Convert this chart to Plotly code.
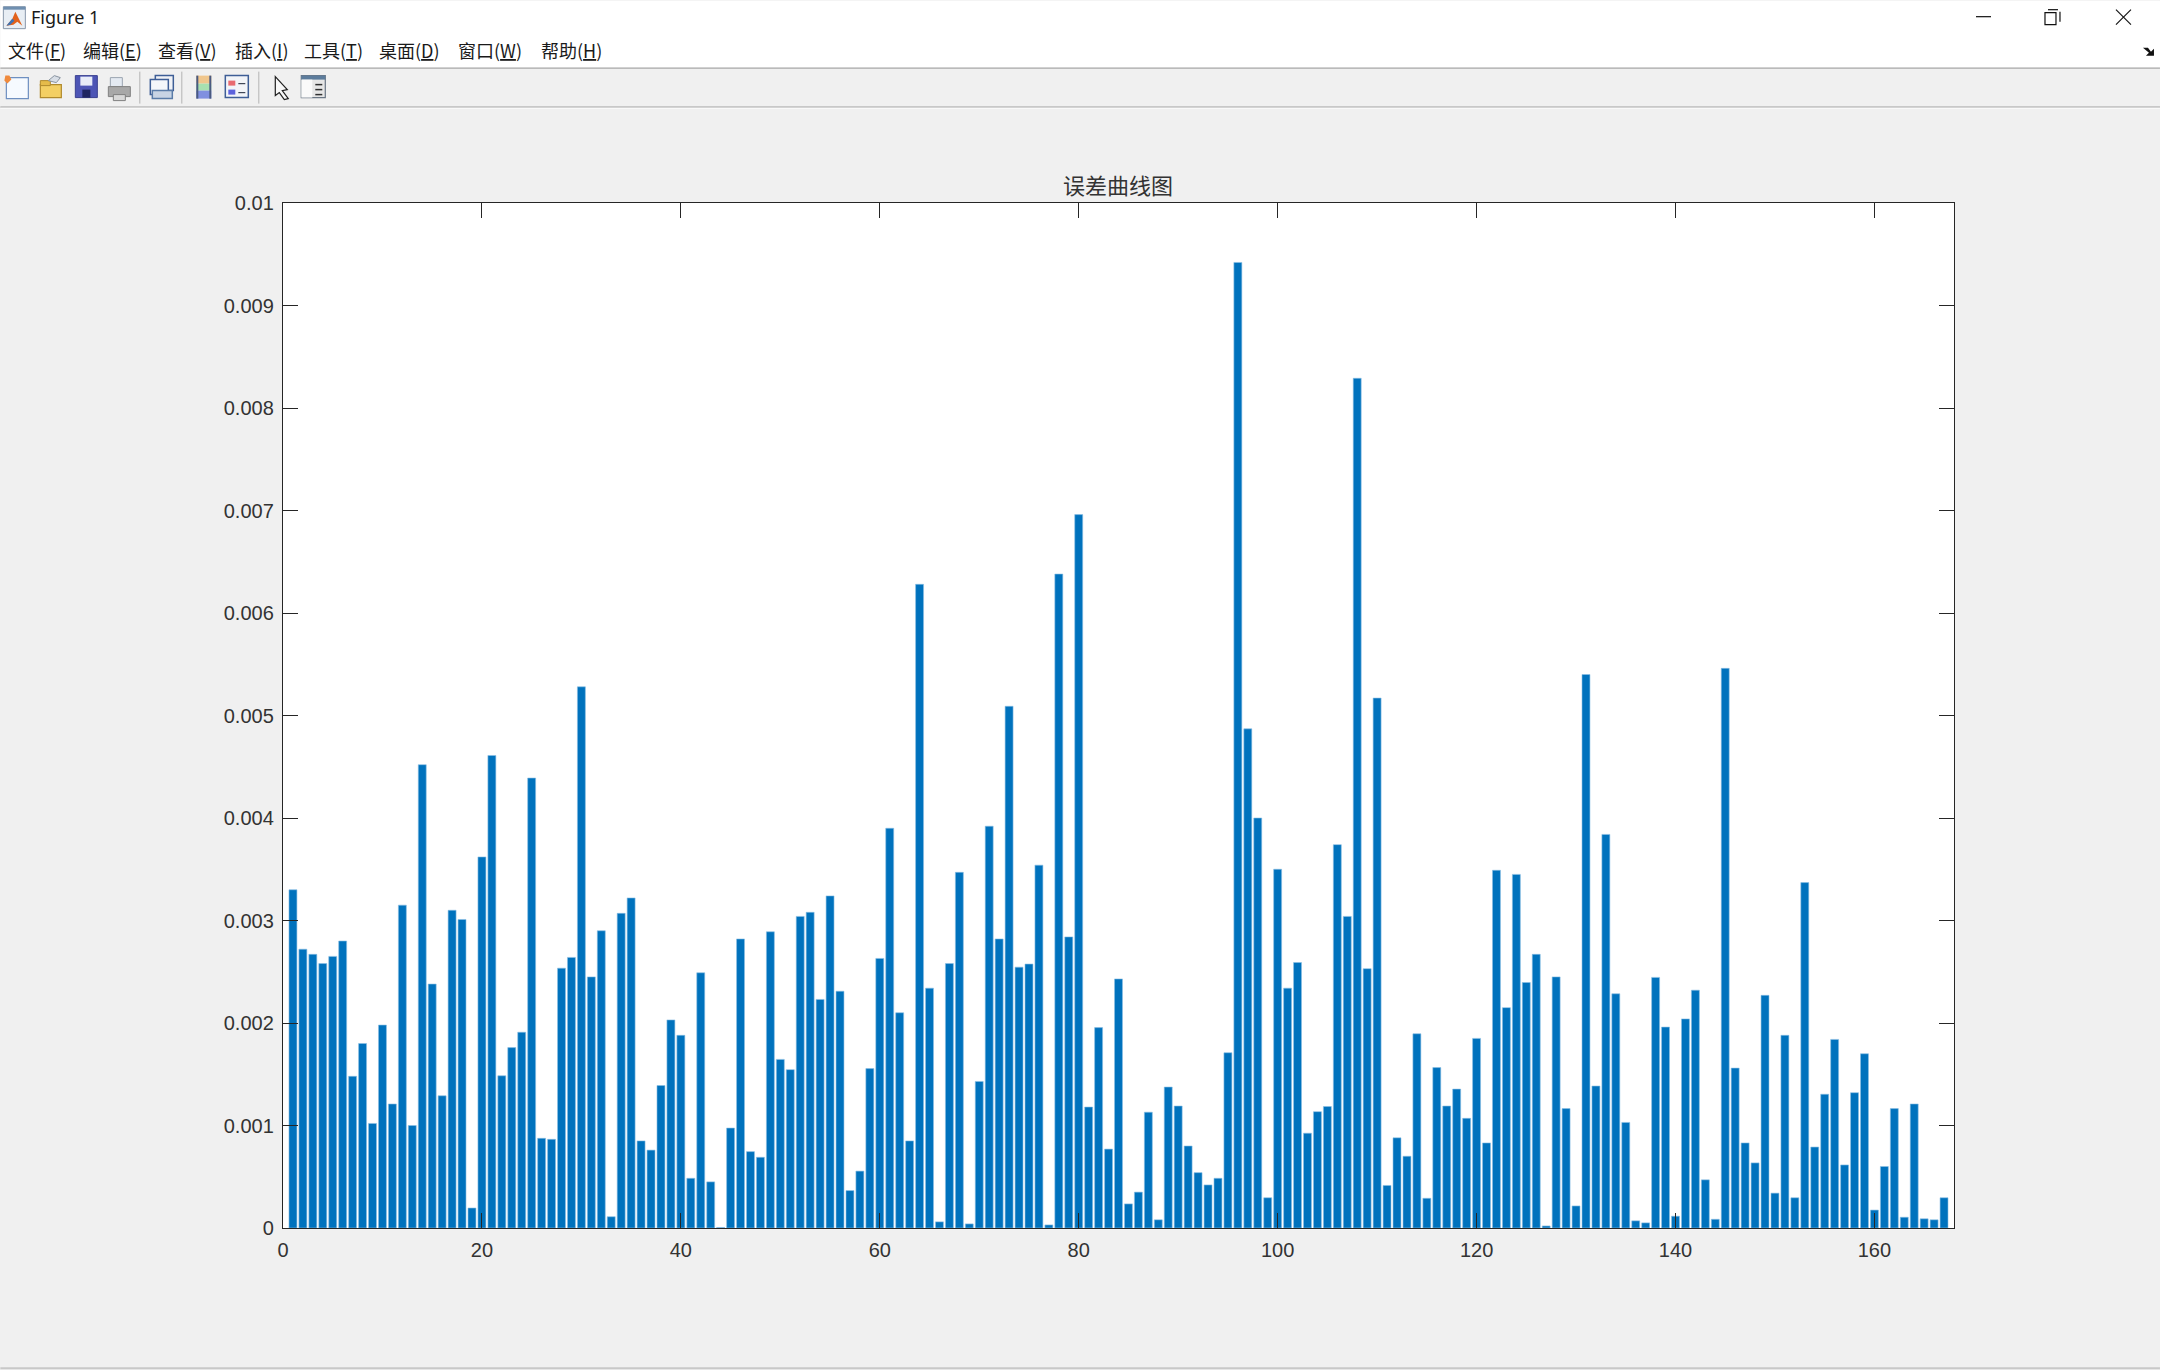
import plotly.graph_objects as go

W, H = 2160, 1370
L, R, T, B = 282.7, 1954, 202.5, 1228.5

error_values = [
 0.00330,0.00272,0.00267,0.00258,0.00265,0.00280,0.00148,0.00180,0.00102,0.00198,
 0.00121,0.00315,0.00100,0.00452,0.00238,0.00129,0.00310,0.00301,0.000195,0.00362,
 0.00461,0.001485,0.00176,0.00191,0.00439,0.000875,0.000865,0.002535,0.00264,0.00528,
 0.00245,0.00290,0.00011,0.00307,0.00322,0.00085,0.00076,0.00139,0.00203,0.00188,
 0.000485,0.00249,0.00045,0.000005,0.000975,0.00282,0.000745,0.00069,0.00289,0.001645,
 0.001545,0.00304,0.00308,0.00223,0.00324,0.00231,0.000365,0.000555,0.001555,0.00263,
 0.00390,0.00210,0.00085,0.00628,0.00234,0.00006,0.00258,0.00347,0.00004,0.00143,
 0.00392,0.00282,0.00509,0.002545,0.002575,0.00354,0.00003,0.00638,0.00284,0.00696,
 0.00118,0.001955,0.00077,0.00243,0.000235,0.00035,0.00113,0.00008,0.001375,0.00119,
 0.00080,0.00054,0.00042,0.000485,0.00171,0.00942,0.00487,0.00400,0.000295,0.00350,
 0.00234,0.00259,0.000925,0.001135,0.001185,0.00374,0.00304,0.00829,0.00253,0.00517,
 0.000415,0.00088,0.00070,0.001895,0.00029,0.001565,0.00119,0.001355,0.00107,0.00185,
 0.00083,0.00349,0.00215,0.00345,0.002395,0.00267,0.00002,0.00245,0.001165,0.000215,
 0.00540,0.001385,0.00384,0.002285,0.00103,0.00007,0.00005,0.002445,0.00196,0.000115,
 0.00204,0.00232,0.00047,0.000085,0.00546,0.00156,0.00083,0.000635,0.00227,0.00034,
 0.00188,0.000295,0.00337,0.00079,0.001305,0.00184,0.000615,0.00132,0.00170,0.000175,
 0.00060,0.001165,0.000105,0.00121,0.00009,0.00008,0.000295,
]
sample_index = list(range(1, len(error_values) + 1))
x_ticks = [0, 20, 40, 60, 80, 100, 120, 140, 160]
y_ticks = [0, 0.001, 0.002, 0.003, 0.004, 0.005, 0.006, 0.007, 0.008, 0.009, 0.01]
y_labels = ["0", "0.001", "0.002", "0.003", "0.004", "0.005", "0.006", "0.007", "0.008", "0.009", "0.01"]
menu_items = ["文件(<u>F</u>)", "编辑(<u>E</u>)", "查看(<u>V</u>)", "插入(<u>I</u>)",
              "工具(<u>T</u>)", "桌面(<u>D</u>)", "窗口(<u>W</u>)", "帮助(<u>H</u>)"]
menu_x = [6, 81, 156, 233, 302, 377, 456, 539]
title_text = "误差曲线图"
window_title = "Figure 1"

BAR = "#0072BD"
INK = "#333333"
CJK = "Noto Sans CJK SC"

fig = go.Figure(go.Bar(x=sample_index, y=error_values, width=0.8,
                       marker=dict(color=BAR, line=dict(color="#8CC0E4", width=0.6))))

shapes, notes = [], []


def px(v):
    return (v - L) / (R - L)


def py(v):
    return 1 - (v - T) / (B - T)


def rect(x0, y0, x1, y1, fill, line=None, lw=1):
    shapes.append(dict(type="rect", xref="paper", yref="paper", x0=px(x0), x1=px(x1), y0=py(y0), y1=py(y1),
                       fillcolor=fill, line=dict(color=line or fill, width=lw if line else 0), layer="below"))


def seg(x0, y0, x1, y1, color, lw=1):
    shapes.append(dict(type="line", xref="paper", yref="paper", x0=px(x0), x1=px(x1), y0=py(y0), y1=py(y1),
                       line=dict(color=color, width=lw), layer="below"))


def poly(points, fill, line=None, lw=1):
    d = "M" + " L".join(f"{px(a):.5f},{py(b):.5f}" for a, b in points) + " Z"
    shapes.append(dict(type="path", xref="paper", yref="paper", path=d, fillcolor=fill,
                       line=dict(color=line or fill, width=lw if line else 0), layer="below"))


def label(x, y, text, size, font, color="#1a1a1a", anchor="left"):
    notes.append(dict(xref="paper", yref="paper", x=px(x), y=py(y), text=text, showarrow=False,
                      xanchor=anchor, yanchor="middle", font=dict(size=size, family=font, color=color)))


# window chrome
rect(0, 0, W, 67, "#FFFFFF")
seg(0, 67.5, W, 67.5, "#A8A8A8", 1.2)
seg(0, 106.5, W, 106.5, "#A0A0A0", 1.2)
seg(0, 107.5, W, 107.5, "#FFFFFF", 1)
seg(0, 1369, W, 1369, "#C8C8C8", 2)

# MATLAB icon
rect(3, 6, 25, 28, "#E8EEF4", "#8898AA", 1)
rect(3, 6, 25, 9, "#6F8FB0")
poly([(6, 25), (12, 18), (15, 11), (22, 25), (17, 21), (13, 24)], "#E2621B")
poly([(6, 25), (12, 18), (14, 20), (10, 24)], "#3B73B5")

label(29, 16, window_title, 18, "Noto Sans")
for mx, mt in zip(menu_x, menu_items):
    label(mx, 49.5, mt, 18, CJK)

# window buttons
seg(1976, 16, 1991, 16, "#111111", 1.2)
rect(2045, 12, 2056, 24, "#FFFFFF", "#111111", 1.2)
seg(2048, 9, 2058, 9, "#111111", 1.2)
seg(2060, 11, 2060, 21, "#111111", 1.2)
seg(2116, 9, 2131, 24, "#111111", 1.2)
seg(2116, 24, 2131, 9, "#111111", 1.2)
poly([(2143, 47), (2148, 47), (2151, 51), (2154, 48), (2154, 55), (2146, 55), (2149, 52)], "#111111")

# toolbar icons
rect(6, 77, 28, 98, "#F6FAFF", "#6E8FC0", 1.2)
poly([(5, 75), (9, 75), (11, 79), (7, 83), (4, 80)], "#F08A3C")
rect(40, 84, 61, 97, "#F3CF63", "#B08A2C", 1.2)
rect(40, 80, 50, 85, "#E5BB4A", "#B08A2C", 1)
poly([(48, 80), (54, 75), (60, 77), (56, 82)], "#D8DEE6", "#8A94A0", 1)
rect(75, 75, 97, 97, "#4D55B5", "#3A4090", 1)
rect(80, 76, 92, 85, "#E8ECF8")
rect(82, 89, 90, 97, "#1E2460")
rect(110, 77, 122, 86, "#E4EAF2", "#9AA4B0", 1)
rect(108, 86, 130, 96, "#A8A8A8", "#808080", 1)
rect(113, 94, 125, 100, "#D8D8D8", "#808080", 1)
seg(139.5, 71, 139.5, 103, "#B4B4B4", 1)
rect(155, 75, 173, 90, "#F0F2F6", "#3E5E96", 1.5)
rect(150, 79, 168, 94, "#F4F6FA", "#3E5E96", 1.5)
rect(152, 90, 172, 98, "#C8D4E4", "#5A7CA8", 1.5)
seg(181.5, 71, 181.5, 103, "#B4B4B4", 1)
rect(196, 75, 211, 83, "#F0C68C")
rect(196, 83, 211, 90, "#A8E0B0")
rect(196, 90, 211, 98, "#8090E0")
rect(196, 75, 198, 98, "#4A5A80")
rect(209, 75, 211, 98, "#4A5A80")
rect(225, 75, 248, 97, "#F2F4F8", "#3E5E96", 1.5)
rect(228, 80, 235, 85, "#E86A70")
rect(228, 89, 235, 94, "#5C62DC")
seg(238, 83, 245, 83, "#404858", 1.2)
seg(238, 92, 245, 92, "#404858", 1.2)
seg(258.5, 71, 258.5, 103, "#B4B4B4", 1)
poly([(275, 76), (287, 89), (282, 90), (288, 98), (284, 99), (279, 92), (275, 95)], "#F8F8F8", "#202020", 1.2)
rect(301, 75, 325, 97, "#E6E6E6", "#6A7684", 1.2)
rect(301, 75, 325, 79, "#5C7C9C")
rect(301, 79, 312, 97, "#FAFAFA")
seg(315, 84, 322, 84, "#303030", 1.5)
seg(315, 89, 322, 89, "#303030", 1.5)
seg(315, 94, 322, 94, "#303030", 1.5)

axis_common = dict(showgrid=False, zeroline=False, showline=True, linecolor="#262626", linewidth=1.4,
                   mirror="ticks", ticks="inside", ticklen=15, tickcolor="#262626", tickwidth=1.2,
                   ticklabelstandoff=4,
                   tickfont=dict(family="Liberation Sans", size=20, color=INK))

fig.update_layout(
    width=W, height=H, autosize=False, showlegend=False,
    paper_bgcolor="#F0F0F0", plot_bgcolor="#FFFFFF", bargap=0.2,
    margin=dict(l=L, r=W - R, t=T, b=H - B, pad=0),
    title=dict(text=title_text, x=1118 / W, xanchor="center", y=1 - 186 / H, yanchor="middle",
               font=dict(family=CJK, size=22, color=INK)),
    xaxis=dict(range=[0, 168], tickmode="array", tickvals=x_ticks, ticktext=[str(t) for t in x_ticks], **axis_common),
    yaxis=dict(range=[0, 0.01], tickmode="array", tickvals=y_ticks, ticktext=y_labels, **axis_common),
    shapes=shapes, annotations=notes,
)

fig.write_html("out.html", config=dict(displayModeBar=False),
               post_script="document.body.style.margin='0';document.body.style.background='#F0F0F0';")
